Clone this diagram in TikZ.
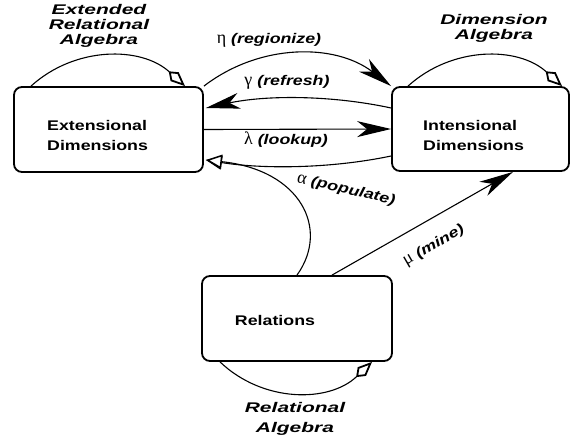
\documentclass[tikz,border=0pt]{standalone}
\usepackage{fontspec}
\usetikzlibrary{arrows.meta,calc}
\newfontfamily\boxfont{Liberation Sans}[FakeStretch=1.27]
\newfontfamily\loopfont{Liberation Sans}[FakeStretch=1.5]
\newfontfamily\grkfont{Liberation Serif}
\newcommand\greekch[1]{{\grkfont\mdseries\upshape\fontsize{18}{18}\selectfont #1}}
\tikzset{
  dimbox/.style={draw, line width=1.8pt, rounded corners=8pt, inner sep=0pt},
  boxtext/.style={font=\boxfont\bfseries\fontsize{14}{20}\selectfont, align=left, inner sep=0pt},
  looplabel/.style={font=\loopfont\bfseries\itshape\fontsize{14}{15}\selectfont, align=center, inner sep=0pt},
  looplabelb/.style={font=\loopfont\bfseries\itshape\fontsize{14}{20}\selectfont, align=center, inner sep=0pt},
  edgelabel/.style={font=\boxfont\bfseries\itshape\fontsize{14}{16}\selectfont, inner sep=0pt},
  conn/.style={line width=1.1pt},
  filledtip/.style={-{Stealth[length=34pt,width=16pt,inset=10pt]}},
  opentip/.style={-{Kite[open,length=22pt,width=12pt,inset=8pt,fill=white,line width=1.8pt]}},
  tritip/.style={-{Triangle[open,length=16pt,width=14pt,fill=white,line width=1.5pt]}},
}
\begin{document}
\begin{tikzpicture}[x=1pt,y=-1pt]
\useasboundingbox (0,0) rectangle (571,442);
% boxes
\node[dimbox, minimum width=189pt, minimum height=85pt] (ext) at (108.5,129.5) {};
\node[dimbox, minimum width=177pt, minimum height=84pt] (int) at (480.5,129) {};
\node[dimbox, minimum width=190pt, minimum height=85pt] (rel) at (297,318.5) {};
% box texts
\node[boxtext, anchor=west] (extt) at (47,135) {Extensional\\Dimensions};
\node[boxtext, anchor=west] (intt) at (423,135) {Intensional\\Dimensions};
\node[boxtext] (relt) at (275,320) {Relations};
% loop labels
\node[looplabel] (erl) at (99,26) {Extended\\Relational\\Algebra};
\node[looplabel] (dal) at (494,28) {Dimension\\Algebra};
\node[looplabelb] (ral) at (295,419) {Relational\\Algebra};
% edge labels
\node[edgelabel] (etal) at (269,40) {\greekch{η} (regionize)};
\node[edgelabel] (gaml) at (287,82) {\greekch{γ} (refresh)};
\node[edgelabel] (laml) at (286,140) {\greekch{λ} (lookup)};
\node[edgelabel, rotate=-13] (alpl) at (346,190) {\greekch{α} (populate)};
\node[edgelabel, rotate=30] (mul) at (434,246) {\greekch{μ} (mine)};
% connectors
\draw[conn, filledtip] (ext.north east) .. controls +(56,-43) and +(-56,-43) .. (int.north west);
\draw[conn, filledtip] ($(int.west)+(0,-21)$) .. controls +(-60,-13) and +(60,-13) .. ($(ext.east)+(2,-21.5)$);
\draw[conn, filledtip] (ext.east) -- (int.west);
\draw[conn, tritip] ($(int.west)+(0,27)$) .. controls +(-62,13) and +(55,9) .. ($(ext.east)+(2,30.5)$);
\draw[conn, tritip] (rel.north) .. controls +(33,-46) and +(95,10) .. ($(ext.east)+(2,30.5)$);
\draw[conn, filledtip] ($(rel.north)+(35,0)$) -- ($(int.south)+(32.5,0)$);
% self loops
\draw[conn, opentip] ($(ext.north)+(-77.5,0)$) .. controls +(44,-40) and +(-44,-40) .. ($(ext.north)+(76.5,0)$);
\draw[conn, opentip] ($(int.north)+(-72.5,0)$) .. controls +(44,-40) and +(-44,-40) .. ($(int.north)+(81.5,0)$);
\draw[conn, opentip] ($(rel.south)+(-77,0)$) .. controls +(43,41) and +(-43,41) .. ($(rel.south)+(75,0)$);
\end{tikzpicture}
\end{document}
